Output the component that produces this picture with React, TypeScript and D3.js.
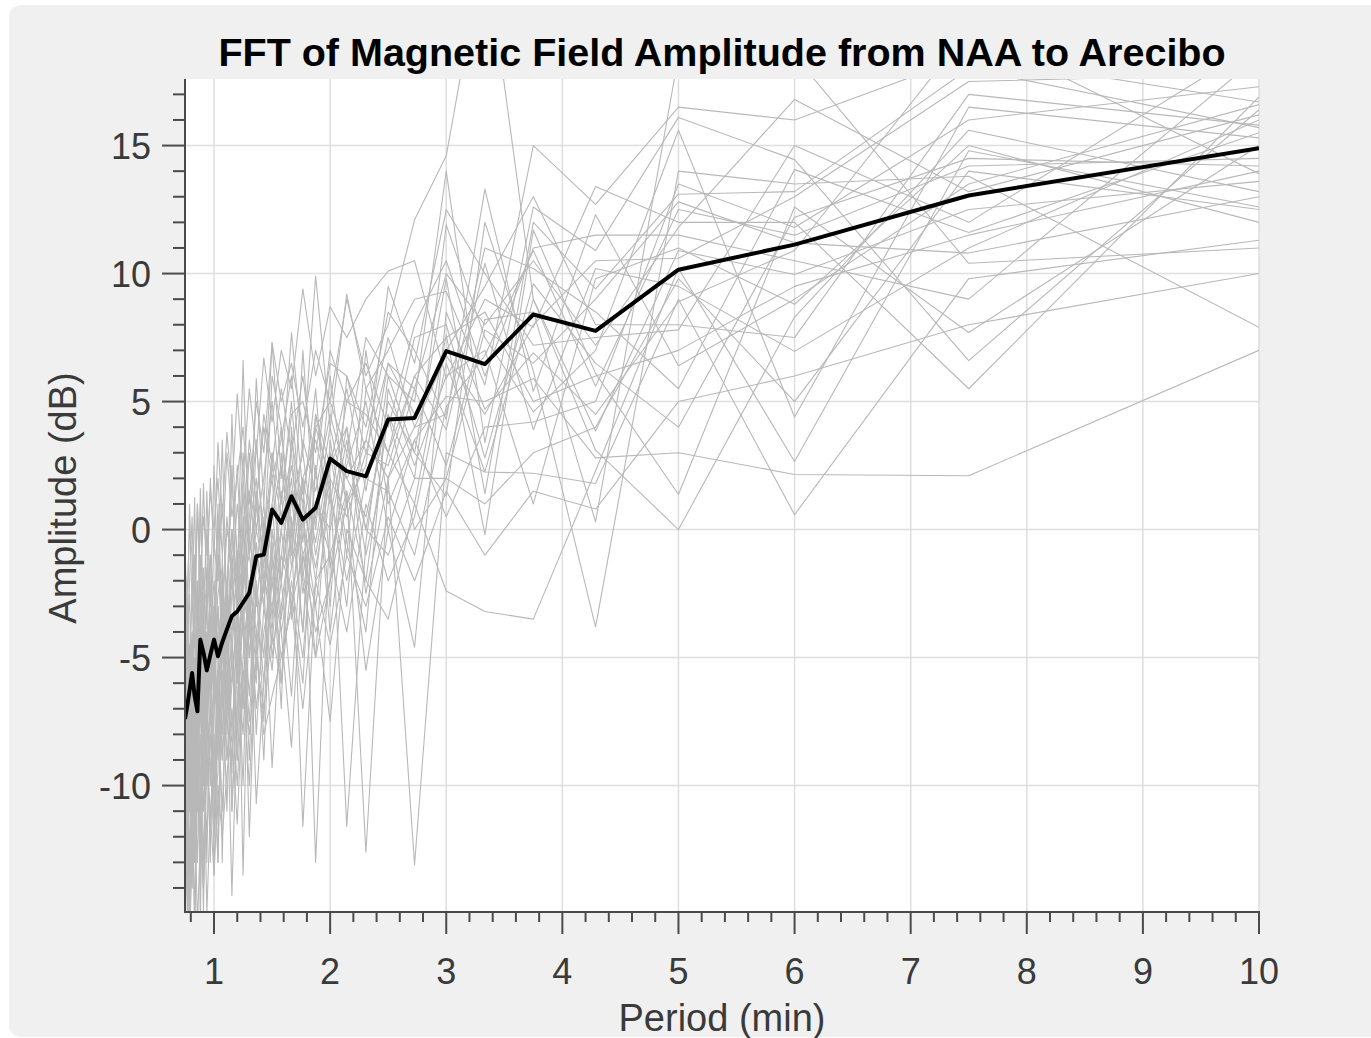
import React from "react";
import * as d3 from "d3";

// Period (min) of each FFT bin, longest first
const PERIODS = [10, 7.5, 6, 5, 4.286, 3.75, 3.333, 3, 2.727, 2.5, 2.308, 2.143, 2, 1.875, 1.765, 1.667, 1.579, 1.5, 1.429, 1.364, 1.304, 1.25, 1.2, 1.154, 1.111, 1.071, 1.034, 1, 0.968, 0.938, 0.909, 0.882, 0.857, 0.833, 0.811, 0.789, 0.769, 0.75];

// Mean spectrum (black)
const MEAN_DB = [14.9, 13.05, 11.13, 10.15, 7.76, 8.4, 6.46, 6.97, 4.36, 4.3, 2.08, 2.28, 2.77, 0.85, 0.39, 1.3, 0.26, 0.78, -0.98, -1.04, -2.47, -2.85, -3.2, -3.38, -3.9, -4.4, -4.95, -4.3, -4.9, -5.5, -4.8, -4.3, -7.1, -6.5, -5.6, -6.3, -6.9, -7.4];

// Individual spectra (gray)
const DAILY_DB = [
  [16.9, 5.5, 12.0, 12.0, 13.4, 7.9, 9.0, 5.9, 10.5, 10.1, 9.0, 7.5, 8.7, 6.0, 9.4, 5.5, 7.0, 4.2, 6.7, 3.0, 5.5, 2.0, 5.3, 1.5, 3.8, 0.5, 3.4, -1.0, 2.0, -2.5, 1.8, -3.0, 1.0, -4.0, 0.5, -2.0, -5.5, -3.0],
  [16.7, 18.5, 16.0, 16.5, 12.7, 15.0, 5.65, 9.3, 9.0, 7.0, 5.5, 9.2, 4.0, 9.9, 3.0, 7.7, 2.0, 7.3, 1.0, 5.9, -1.0, 6.6, -2.0, 4.5, -3.5, 3.5, -2.0, 2.5, -3.0, 1.5, -4.5, 1.6, -6.0, 1.25, -3.0, 1.0, -4.0, -0.5],
  [16.6, 13.5, 9.0, 6.4, 12.3, 5.4, 13.3, 4.3, 7.0, 8.5, 4.0, 6.0, 6.5, 3.0, 5.0, 4.5, 1.0, 5.0, 2.0, 0.0, 3.0, -1.5, 1.0, -2.0, 0.5, -3.0, -1.0, -5.0, -2.0, -6.0, -1.5, -4.0, -7.0, -3.0, -5.0, -8.0, -2.5, -6.0],
  [16.4, 6.6, 14.45, 16.1, 10.9, 12.6, 3.4, 14.0, 5.0, 6.0, 7.5, 3.0, 5.0, 4.0, 1.5, 6.0, 3.5, 2.0, 4.0, 1.0, -1.0, 2.0, -3.0, 0.0, -2.0, -5.0, -1.0, -3.5, -7.0, -3.0, -5.0, -1.0, -6.5, -9.0, -4.0, -6.0, -8.0, -5.0],
  [16.0, 11.0, 6.96, 9.5, 10.2, 3.9, 10.4, 3.9, 6.0, 3.0, 4.5, 5.0, 1.0, 3.5, 2.0, 0.0, 4.0, 1.0, -2.0, 2.0, 0.0, -4.0, -1.0, -2.5, -6.0, -3.0, -5.0, -2.0, -4.0, -8.0, -3.0, -6.0, -2.0, -7.5, -5.0, -10.0, -6.0, -4.0],
  [15.7, 18.0, 13.2, 13.1, 9.4, 12.0, 1.4, 9.8, 3.0, 5.0, 0.0, 4.0, 2.5, -1.0, 3.0, 1.0, -2.0, 2.0, 0.0, -3.0, -1.0, -2.0, -5.0, -1.5, -4.0, -6.5, -3.0, -7.0, -3.5, -5.0, -9.0, -4.0, -8.0, -5.5, -11.0, -6.0, -9.0, -7.5],
  [15.5, 11.6, 14.06, 5.5, 8.5, 10.2, 11.0, 4.5, 4.0, 2.0, 3.5, 1.0, 4.0, 0.5, -1.0, 2.5, 0.0, -2.0, -1.0, 1.0, -4.0, -2.5, -1.0, -5.0, -2.0, -4.0, -7.5, -4.5, -6.0, -4.0, -7.0, -5.5, -10.0, -6.0, -8.0, -4.5, -11.0, -8.0],
  [15.3, 16.5, 4.4, 15.6, 7.0, 4.6, 7.5, 11.9, 2.0, 4.5, 0.5, 2.0, 3.0, -2.0, 1.5, 0.0, -3.5, 1.0, -3.0, -0.5, -5.0, -1.0, -3.5, -6.0, -4.5, -2.5, -8.0, -5.0, -7.0, -9.5, -5.0, -7.0, -4.0, -10.0, -6.5, -9.0, -7.0, -12.0],
  [15.0, 7.7, 12.6, 1.37, 6.1, 11.7, -0.2, 7.6, 1.0, 3.0, -1.0, 3.5, 0.0, 1.0, -2.5, 2.0, -1.0, -3.0, -2.0, -4.5, -2.0, -6.0, -3.0, -4.0, -7.0, -5.0, -6.0, -9.0, -5.0, -7.5, -11.0, -6.0, -9.0, -12.0, -7.0, -10.0, -13.0, -9.0],
  [14.5, 14.2, 11.5, 12.5, 5.6, 10.9, 6.8, 4.8, -1.0, 1.5, 2.0, -2.0, 1.5, -3.0, 0.5, -1.5, -4.0, 0.0, -5.0, -2.0, -6.5, -3.0, -8.0, -4.5, -6.0, -9.0, -5.5, -7.0, -10.0, -6.0, -8.0, -12.0, -7.0, -9.5, -13.0, -8.0, -11.0, -14.0],
  [13.9, 19.5, 10.9, 8.9, 4.5, 6.9, 4.7, 8.5, -4.6, 0.0, -5.5, 1.0, -2.0, -4.0, -1.0, -3.0, -5.0, -2.0, -4.0, -7.0, -3.0, -8.0, -5.0, -9.0, -6.0, -11.0, -7.0, -10.0, -8.0, -12.0, -9.0, -7.0, -13.0, -10.0, -8.5, -14.0, -11.0, -9.5],
  [13.6, 12.5, 9.96, 10.9, 3.85, 9.0, 2.25, 6.5, 0.5, -2.0, 1.0, -4.0, -1.0, 1.0, -5.0, -2.0, -6.0, -4.0, -7.0, -5.0, -8.0, -5.5, -10.0, -7.0, -9.0, -6.0, -13.0, -8.0, -12.0, -9.0, -14.0, -10.0, -8.0, -15.0, -11.0, -13.0, -9.0, -16.0],
  [13.2, 15.6, 8.3, 0.0, 3.1, 9.0, 23.0, 14.6, 12.1, 8.0, 6.0, 9.0, 5.0, 7.0, 4.0, 6.5, 5.0, 7.3, 3.0, 5.0, 1.0, 4.0, 2.0, 0.5, 3.0, -1.0, 2.0, 0.0, 1.5, -1.0, 0.5, -2.0, 1.0, -3.0, -1.0, 0.0, -2.5, -1.5],
  [12.6, 14.8, 2.66, 10.2, 2.3, -3.5, -3.2, -2.4, 1.0, -3.5, -2.0, 0.0, -7.5, -3.0, -1.0, -8.5, -4.0, -2.0, -6.0, -10.7, -3.0, -7.0, -5.0, -11.0, -4.0, -8.0, -6.0, -12.0, -9.0, -7.0, -15.0, -8.0, -11.0, -6.0, -14.0, -9.0, -12.0, -8.0],
  [11.3, 9.8, 0.58, 9.0, 1.8, 2.2, 2.25, 3.0, -13.1, 2.0, -12.6, 1.5, -1.0, -2.0, -11.6, 0.0, -3.0, -9.3, -2.0, -4.0, -12.0, -3.0, -7.0, -14.3, -6.0, -4.0, -13.0, -9.0, -11.0, -15.0, -8.0, -13.0, -10.0, -16.0, -9.0, -12.0, -15.0, -10.0],
  [11.0, 10.4, 18.5, 18.5, 0.3, 8.5, 8.2, 2.5, 5.5, 2.0, -2.5, 4.0, 0.5, -13.0, 2.0, -1.5, 3.0, -3.5, 1.0, -1.5, -5.0, 0.0, -3.0, -1.0, -7.0, -2.0, -5.0, -3.0, -6.0, -2.0, -8.0, -4.5, -3.0, -9.0, -5.0, -6.5, -4.0, -10.0],
  [7.9, 13.8, 13.5, 14.0, -3.8, 6.2, 12.0, 1.3, 3.0, 6.0, -0.5, -11.6, 2.0, 4.0, -2.0, 3.0, 0.5, 2.5, -1.5, 0.0, -2.5, -13.5, -1.5, -4.0, -2.5, -13.0, -4.0, -6.0, -2.0, -7.0, -5.0, -3.0, -8.0, -4.0, -6.0, -9.0, -7.0, -5.0],
  [18.5, 9.0, 10.5, 11.5, 11.5, 11.0, 6.0, 10.5, 8.0, 4.0, 6.5, 5.0, 7.0, 2.0, 6.0, 3.0, 5.5, 2.5, 4.5, 1.0, 3.5, 0.0, -1.0, 2.0, -3.0, 1.0, -2.0, -0.5, -4.0, 0.0, -3.5, 1.0, -5.0, -1.0, -2.0, -6.0, -3.0, -4.0],
  [19.0, 12.0, 15.0, 7.8, 7.5, 7.2, 10.0, 12.5, 6.5, 9.5, 2.5, 1.0, 6.0, 0.0, 7.0, -1.0, 4.0, 6.0, -1.0, 3.5, -3.0, 1.5, -4.0, 2.5, -2.5, -4.5, 0.5, -6.0, -1.0, -3.0, -2.0, -7.0, -3.5, -1.0, -8.0, -2.5, -4.0, -6.0],
  [17.3, 16.0, 11.8, 13.5, 5.0, 4.2, 4.0, 0.5, 3.5, 0.0, 5.0, 2.5, -1.5, 5.5, 1.0, 3.5, -2.0, 3.0, -3.0, -1.0, 1.5, -2.0, -6.0, -1.0, -5.0, -2.0, -8.0, -3.0, -6.0, -4.0, -10.0, -5.0, -6.0, -11.0, -4.0, -7.0, -10.0, -12.0],
  [12.0, 15.0, 8.8, 11.0, 9.8, 1.0, 7.0, 6.0, 2.5, 5.5, -4.0, -0.5, 3.5, -5.0, -2.0, 4.0, -7.0, -1.0, -9.0, -4.0, -2.0, -10.0, -4.0, -8.0, -3.0, -6.0, -9.0, -5.0, -13.0, -7.0, -5.0, -11.0, -9.0, -13.0, -7.5, -15.0, -10.0, -13.0],
  [14.2, 14.5, 12.2, 4.0, 6.5, 9.6, 2.8, 8.0, 7.5, 3.0, 5.5, -3.0, 1.5, 4.5, -4.0, 1.5, -2.0, -5.0, 0.5, -6.0, -4.0, 0.5, -9.0, -5.0, -8.0, -1.0, -9.5, -11.0, -4.0, -8.0, -13.0, -6.0, -11.0, -8.0, -12.0, -7.0, -14.0, -11.0],
  [15.8, 17.0, 7.5, 8.0, 8.0, 13.0, 9.5, 7.0, 4.5, 6.5, 3.0, 6.0, -3.0, 2.5, -4.0, 0.5, -6.0, -0.5, -7.5, -2.0, -9.0, -3.5, -6.5, -11.0, -2.0, -9.0, -5.0, -12.0, -7.0, -10.0, -6.0, -14.0, -8.5, -11.0, -9.0, -16.0, -12.0, -15.0],
  [7.0, 2.1, 2.15, 3.0, 2.8, 5.9, 5.0, 5.2, 3.5, 1.0, 7.0, -1.0, 3.0, -0.5, 2.0, -3.5, 1.5, -4.0, -0.5, -5.5, -2.5, -7.0, -3.0, -6.0, -9.0, -3.5, -7.0, -13.5, -5.0, -8.0, -6.0, -10.0, -7.0, -12.0, -8.0, -6.5, -11.0, -9.0],
  [14.0, 11.5, 9.5, 7.0, 6.0, 5.0, 8.5, 7.5, 6.0, 2.5, 3.0, 0.5, 2.0, -1.5, 1.0, -3.0, 0.0, -4.5, -1.5, 1.5, -3.5, -1.0, -6.0, -2.0, -4.0, -7.0, -3.0, -5.5, -2.0, -8.0, -4.0, -6.5, -9.0, -5.0, -7.0, -11.0, -8.0, -10.0],
  [12.5, 14.0, 5.0, 9.8, 4.0, 3.0, 1.0, 2.0, 0.0, 4.5, -2.0, 1.5, -4.0, 2.5, -6.0, -2.5, -1.0, -5.5, -3.0, -8.0, -2.0, -5.0, -9.0, -4.0, -11.0, -5.5, -8.0, -10.0, -6.0, -13.0, -7.5, -12.0, -9.5, -7.0, -14.0, -10.0, -12.5, -15.0],
  [16.2, 13.2, 16.8, 11.8, 7.2, 10.5, 8.0, 10.0, 5.5, 6.5, 1.5, 5.5, 2.5, 4.5, -0.5, 5.0, 1.0, 3.0, -0.5, 3.5, 0.5, -2.5, 2.5, -1.0, 0.0, -3.5, 1.0, -4.0, -1.0, -3.0, -5.5, -2.0, -4.0, -6.0, -2.5, -5.0, -7.5, -4.5],
  [10.0, 8.0, 6.0, 5.0, 0.8, 1.5, -1.0, 1.5, -2.0, 0.5, -3.0, -1.0, -4.5, -2.0, -7.0, -3.0, -5.0, -6.5, -8.0, -4.5, -10.0, -6.0, -11.5, -8.0, -9.5, -12.0, -10.0, -13.5, -11.0, -9.0, -14.0, -12.0, -15.5, -10.5, -13.0, -16.0, -14.0, -12.5],
  [17.8, 17.5, 13.0, 10.6, 10.5, 8.0, 4.5, 6.8, 4.0, 7.5, 3.5, 2.0, 4.5, 1.5, 3.5, -1.0, 2.5, 0.5, -2.5, 1.0, -1.0, 3.0, -2.0, 0.0, -4.5, -1.5, -2.5, -5.0, -3.5, -1.5, -6.5, -3.0, -5.0, -2.0, -6.0, -9.0, -4.5, -7.0],
  [13.0, 10.8, 11.2, 12.8, 9.0, 6.5, 7.8, 2.0, 2.0, -1.0, 0.0, 3.0, -2.0, -5.0, 0.5, -6.5, -2.0, 0.0, -6.0, -2.5, -7.5, -4.0, -2.0, -9.5, -5.0, -7.0, -11.5, -6.0, -8.5, -10.0, -7.0, -15.5, -6.0, -13.0, -10.0, -8.0, -13.5, -11.5],
];

const X_TICKS = [1, 2, 3, 4, 5, 6, 7, 8, 9, 10];
const Y_TICKS = [-10, -5, 0, 5, 10, 15];
const X_DOMAIN = [0.75, 10];
const Y_DOMAIN = [-14.9, 17.6];
const TITLE = "FFT of Magnetic Field Amplitude from NAA to Arecibo";
const X_LABEL = "Period (min)";
const Y_LABEL = "Amplitude (dB)";

const W = 1371;
const H = 1038;
const L = 185;
const R = 1259;
const T = 79;
const B = 911;
const FONT = "'Liberation Sans', Arial, Helvetica, sans-serif";
const AX = "#4a4a4a";
const TXT = "#3a3a3a";

export default function App() {
  const x = d3.scaleLinear().domain(X_DOMAIN).range([L, R]);
  const y = d3.scaleLinear().domain(Y_DOMAIN).range([B, T]);
  const line = d3
    .line<number>()
    .x((_, i) => x(PERIODS[i]))
    .y((d) => y(d));

  const yMinor = d3.range(-14, 18).filter((v) => !Y_TICKS.includes(v));
  const xMinor = d3.range(4, 51).map((v) => v / 5).filter((v) => Math.abs(v - Math.round(v)) > 1e-6);

  return (
    <svg width={W} height={H} style={{ position: "absolute", left: 0, top: 0, display: "block" }} fontFamily={FONT}>
      <rect x={0} y={0} width={W} height={H} fill="#ffffff" />
      <rect x={9} y={5} width={W - 9 + 20} height={H - 5 - 1} rx={12} fill="#f0f0f0" />
      <rect x={L} y={T} width={R - L} height={B - T} fill="#ffffff" />
      <defs>
        <clipPath id="plotclip">
          <rect x={L} y={T} width={R - L} height={B - T} />
        </clipPath>
      </defs>
      {/* grid */}
      <g stroke="#dedede" strokeWidth={1.5}>
        {X_TICKS.map((t) => (
          <line key={"gx" + t} x1={x(t)} x2={x(t)} y1={T} y2={B} />
        ))}
        {Y_TICKS.map((t) => (
          <line key={"gy" + t} x1={L} x2={R} y1={y(t)} y2={y(t)} />
        ))}
      </g>
      {/* data */}
      <g clipPath="url(#plotclip)" fill="none" strokeLinejoin="round">
        {DAILY_DB.map((s, i) => (
          <path key={"s" + i} d={line(s) || ""} stroke="#b8b8b8" strokeWidth={1.1} />
        ))}
        <path d={line(MEAN_DB) || ""} stroke="#000000" strokeWidth={4} />
      </g>
      {/* axes */}
      <g stroke={AX} strokeWidth={2}>
        <line x1={L} x2={L} y1={T} y2={B + 1} />
        <line x1={L - 1} x2={R + 1} y1={B + 1} y2={B + 1} />
        {Y_TICKS.map((t) => (
          <line key={"yt" + t} x1={L - 23} x2={L} y1={y(t)} y2={y(t)} />
        ))}
        {yMinor.map((t) => (
          <line key={"ym" + t} x1={L - 12} x2={L} y1={y(t)} y2={y(t)} />
        ))}
        {X_TICKS.map((t) => (
          <line key={"xt" + t} x1={x(t)} x2={x(t)} y1={B + 1} y2={B + 23} />
        ))}
        {xMinor.map((t) => (
          <line key={"xm" + t} x1={x(t)} x2={x(t)} y1={B + 1} y2={B + 11} />
        ))}
      </g>
      <g fill={TXT} fontSize={36}>
        {Y_TICKS.map((t) => (
          <text key={"yl" + t} x={151} y={y(t) + 13} textAnchor="end">
            {String(t)}
          </text>
        ))}
        {X_TICKS.map((t) => (
          <text key={"xl" + t} x={x(t)} y={984} textAnchor="middle">
            {String(t)}
          </text>
        ))}
      </g>
      <text x={(L + R) / 2} y={1031} textAnchor="middle" fontSize={38} fill={TXT}>
        {X_LABEL}
      </text>
      <text transform={`translate(76, ${(T + B) / 2 + 3}) rotate(-90)`} textAnchor="middle" fontSize={38} fill={TXT}>
        {Y_LABEL}
      </text>
      <text x={(L + R) / 2} y={66} textAnchor="middle" fontSize={39.5} fontWeight="bold" fill="#000">
        {TITLE}
      </text>
    </svg>
  );
}
